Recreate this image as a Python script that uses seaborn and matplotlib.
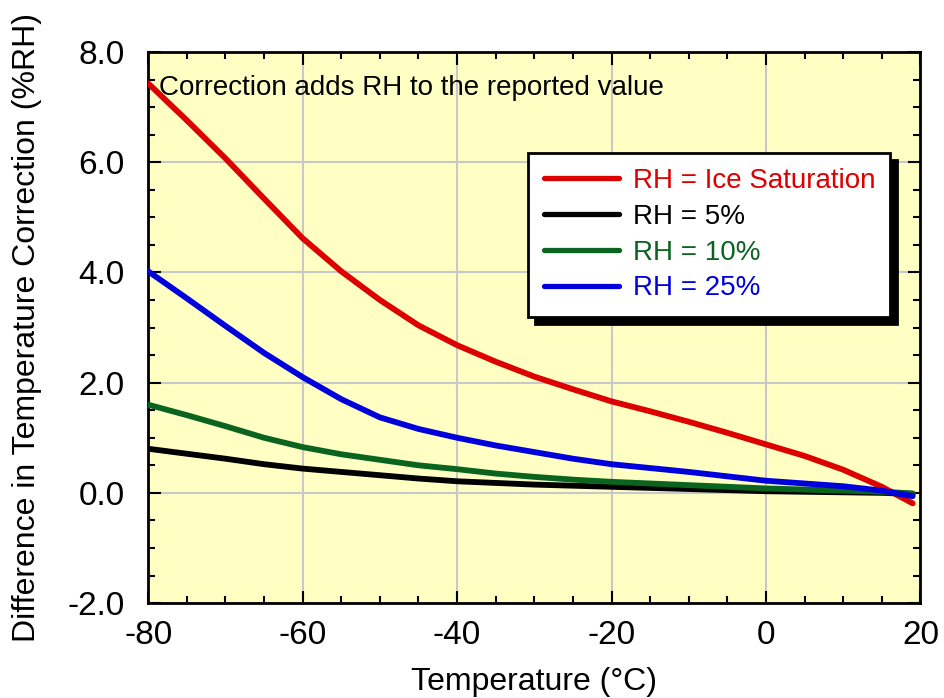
import numpy as np
import pandas as pd
import matplotlib
matplotlib.use('Agg')
import matplotlib.pyplot as plt
import matplotlib.ticker as ticker
import seaborn as sns

sns.set_theme(context='paper', style='ticks')
plt.rcParams['font.family'] = ['Liberation Sans', 'DejaVu Sans']
plt.rcParams['axes.unicode_minus'] = False
plt.rcParams['text.color'] = 'black'
plt.rcParams['axes.labelcolor'] = 'black'
plt.rcParams['xtick.color'] = 'black'
plt.rcParams['ytick.color'] = 'black'

# Temperature (°C)
temperature = [-80, -75, -70, -65, -60, -55, -50, -45, -40, -35, -30,
               -25, -20, -15, -10, -5, 0, 5, 10, 15, 19]

# Difference in temperature correction (%RH)
rh_ice = [7.43, 6.76, 6.07, 5.34, 4.62, 4.02, 3.50, 3.04, 2.68, 2.38, 2.11,
          1.88, 1.66, 1.48, 1.29, 1.09, 0.88, 0.67, 0.42, 0.11, -0.19]
rh_5 = [0.80, 0.71, 0.62, 0.52, 0.44, 0.38, 0.32, 0.26, 0.21, 0.18, 0.15,
        0.13, 0.11, 0.09, 0.07, 0.05, 0.03, 0.02, 0.01, 0.0, -0.02]
rh_10 = [1.60, 1.41, 1.21, 1.00, 0.83, 0.70, 0.60, 0.50, 0.43, 0.35, 0.29,
         0.24, 0.20, 0.17, 0.14, 0.11, 0.08, 0.06, 0.04, 0.02, -0.01]
rh_25 = [4.02, 3.53, 3.03, 2.54, 2.10, 1.70, 1.37, 1.16, 1.00, 0.86, 0.74,
         0.62, 0.52, 0.45, 0.38, 0.30, 0.22, 0.17, 0.12, 0.04, -0.06]

series_names = ['RH = Ice Saturation', 'RH = 5%', 'RH = 10%', 'RH = 25%']
series_colors = ['#DD0000', '#000000', '#0A6420', '#0000DD']

frames = []
for name, vals in zip(series_names, [rh_ice, rh_5, rh_10, rh_25]):
    frames.append(pd.DataFrame({'temp': temperature, 'diff': vals, 'series': name}))
df = pd.concat(frames, ignore_index=True)

fig = plt.figure(figsize=(9.44, 6.98), dpi=100)
ax = fig.add_axes([0.157, 0.136, 0.818, 0.7895])
ax.set_facecolor('#FFFFC4')

sns.lineplot(data=df, x='temp', y='diff', hue='series', hue_order=series_names,
             palette=series_colors, linewidth=4.2, ax=ax, zorder=3, sort=False)
for ln in ax.get_lines():
    ln.set_solid_capstyle('round')
    ln.set_solid_joinstyle('round')

ax.set_xlim(-80, 20)
ax.set_ylim(-2, 8)
ax.xaxis.set_major_locator(ticker.MultipleLocator(20))
ax.xaxis.set_minor_locator(ticker.MultipleLocator(5))
ax.yaxis.set_major_locator(ticker.MultipleLocator(2))
ax.yaxis.set_minor_locator(ticker.MultipleLocator(0.5))
ax.yaxis.set_major_formatter(ticker.FormatStrFormatter('%.1f'))
ax.grid(True, which='major', color='#C8C8C8', linewidth=1.5, zorder=0)
ax.set_axisbelow(True)

ax.tick_params(which='both', direction='in', top=True, right=True, color='black', width=1.5)
ax.tick_params(which='major', length=9, labelsize=24)
ax.tick_params(axis='x', which='major', pad=12)
ax.tick_params(axis='y', which='major', pad=17)
ax.tick_params(which='minor', length=5)
for sp in ax.spines.values():
    sp.set_color('black')
    sp.set_linewidth(2)

ax.set_xlabel('Temperature (°C)', fontsize=23, labelpad=12)
ax.set_ylabel('Difference in Temperature Correction (%RH)', fontsize=23, labelpad=18)

ax.text(0.014, 0.935, 'Correction adds RH to the reported value', transform=ax.transAxes,
        fontsize=20, color='black', va='center', ha='left')

leg = ax.legend(loc='upper right', bbox_to_anchor=(0.961, 0.817), fontsize=20, frameon=True,
                fancybox=False, framealpha=1, edgecolor='black', handlelength=2.7,
                borderpad=0.55, labelspacing=0.35, handletextpad=0.5, borderaxespad=0,
                shadow={'color': 'black', 'alpha': 1, 'ox': 5, 'oy': -5})
leg.get_frame().set_linewidth(2)
for txt, c in zip(leg.get_texts(), series_colors):
    txt.set_color(c)
for line in leg.get_lines():
    line.set_linewidth(3.8)
    line.set_solid_capstyle('round')

fig.savefig('out.png', dpi=100)
